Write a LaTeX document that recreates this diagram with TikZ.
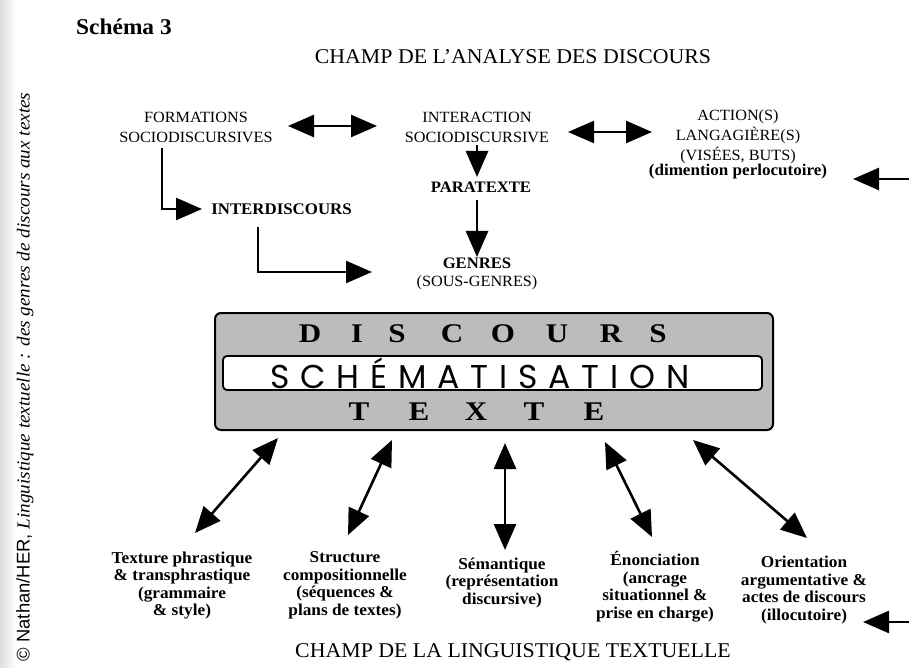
\documentclass[tikz,border=0pt]{standalone}
\usepackage{fontspec}
\setmainfont{Liberation Serif}[FakeStretch=1.04]
\newfontfamily\wideserif{Liberation Serif}[FakeStretch=1.15]
\newfontfamily\schfont{Poppins}[LetterSpace=33]
\newfontfamily\credsans{Liberation Sans}
\usetikzlibrary{arrows.meta}
\definecolor{boxgray}{RGB}{188,188,188}
\definecolor{stripgray}{RGB}{222,222,222}

\begin{document}
\begin{tikzpicture}[x=1pt,y=-1pt,
  lbl/.style={inner sep=0pt, align=center},
  caps/.style={lbl, font=\fontsize{15.6}{20}\selectfont},
  boldlbl/.style={lbl, font=\bfseries\fontsize{16.6}{17.5}\selectfont},
  title/.style={lbl, font=\fontsize{21}{22}\selectfont},
  bigletter/.style={inner sep=0pt, font=\wideserif\bfseries\fontsize{27}{27}\selectfont},
  link/.style={line width=2.6pt, -{Triangle[length=26pt,width=22pt]}},
  dbl/.style={line width=2.6pt, {Triangle[length=26pt,width=22pt]}-{Triangle[length=26pt,width=22pt]}},
]
\useasboundingbox (0,0) rectangle (909,668);
\fill[white] (0,0) rectangle (909,668);
% page gutter
\shade[left color=stripgray, right color=white] (0,0) rectangle (16,668);

% credit line along the gutter
\node[inner sep=0pt, rotate=90] (credit) at (25,377)
  {\fontsize{18.4}{19}\selectfont{\credsans ©~Nathan/HER,} \textit{Linguistique textuelle : des genres de discours aux textes}};

% headings
\node[inner sep=0pt, anchor=base west, font=\bfseries\fontsize{22.5}{24}\selectfont] (schema) at (76,35) {Schéma 3};
\node[title] (champA) at (513,57) {CHAMP DE L’ANALYSE DES DISCOURS};
\node[title] (champL) at (513,652) {CHAMP DE LA LINGUISTIQUE TEXTUELLE};

% upper field
\node[caps] (form) at (196,127) {FORMATIONS\\SOCIODISCURSIVES};
\node[caps] (inter) at (477,127) {INTERACTION\\SOCIODISCURSIVE};
\node[caps] (action) at (738,137) {ACTION(S)\\LANGAGIÈRE(S)\\(VISÉES, BUTS)};
\node[lbl, font=\bfseries\fontsize{16.4}{17}\selectfont] (perlo) at (738,172) {(dimention perlocutoire)};
\node[lbl, font=\bfseries\fontsize{16}{18}\selectfont] (para) at (481,187) {PARATEXTE};
\node[lbl, font=\bfseries\fontsize{16.2}{18}\selectfont] (interd) at (281.5,209) {INTERDISCOURS};
\node[lbl, font=\fontsize{15.6}{18}\selectfont] (genres) at (477,274) {\textbf{\fontsize{16}{18}\selectfont GENRES}\\(SOUS-GENRES)};

% connector end points
\coordinate (d1a) at (288,126);  \coordinate (d1b) at (377,126);
\coordinate (d2a) at (568,132);  \coordinate (d2b) at (652,132);
\coordinate (p1a) at (477,145);  \coordinate (p1b) at (477,177);
\coordinate (p2a) at (477,200);  \coordinate (p2b) at (477,257);
\coordinate (e1a) at (162,148);  \coordinate (e1b) at (202,209);
\coordinate (e2a) at (258,227);  \coordinate (e2b) at (372,272);
\coordinate (r1a) at (912,179);  \coordinate (r1b) at (853,179);
\coordinate (r2a) at (912,622);  \coordinate (r2b) at (863,622);

\draw[dbl] (d1a) -- (d1b);
\draw[dbl] (d2a) -- (d2b);
\draw[link] (p1a) -- (p1b);
\draw[link] (p2a) -- (p2b);
\draw[link] (e1a) |- (e1b);
\draw[link] (e2a) |- (e2b);
\draw[link] (r1a) -- (r1b);
\draw[link] (r2a) -- (r2b);

% central block
\node[draw, line width=2pt, fill=boxgray, rounded corners=6pt, inner sep=0pt,
      minimum width=558pt, minimum height=117pt] (block) at (494,371.5) {};
\node[draw, line width=1.8pt, fill=white, rounded corners=4pt, inner sep=0pt,
      minimum width=539pt, minimum height=34pt] (schbox) at (492.5,373) {};
\node[inner sep=0pt, font=\schfont\fontsize{33}{33}\selectfont] (schem) at (480,373) {SCHÉMATISATION};

\foreach \ch/\px [count=\i] in {D/310, I/357, S/397, C/452, O/503, U/557, R/611, S/658}
  \node[bigletter] (disc\i) at (\px,334) {\ch};
\foreach \ch/\px [count=\i] in {T/359, E/419, X/476, T/534, E/594}
  \node[bigletter] (texte\i) at (\px,412) {\ch};

% lower field
\node[boldlbl] (texture) at (182,585.5) {Texture phrastique\\\& transphrastique\\(grammaire\\\& style)};
\node[boldlbl] (struct) at (345,585.5) {Structure\\compositionnelle\\(séquences \&\\plans de textes)};
\node[boldlbl] (seman) at (502,582.5) {Sémantique\\(représentation\\discursive)};
\node[boldlbl] (enonc) at (655,586.5) {Énonciation\\(ancrage\\situationnel \&\\prise en charge)};
\node[boldlbl] (orient) at (804,590) {Orientation\\argumentative \&\\actes de discours\\(illocutoire)};

\coordinate (b1a) at (278,438);  \coordinate (b1b) at (195,533);
\coordinate (b2a) at (392,440);  \coordinate (b2b) at (348,535);
\coordinate (b3a) at (505,443);  \coordinate (b3b) at (505,550);
\coordinate (b4a) at (605,442);  \coordinate (b4b) at (652,537);
\coordinate (b5a) at (693,440);  \coordinate (b5b) at (807,538);

\draw[dbl] (b1a) -- (b1b);
\draw[dbl] (b2a) -- (b2b);
\draw[dbl] (b3a) -- (b3b);
\draw[dbl] (b4a) -- (b4b);
\draw[dbl] (b5a) -- (b5b);
\end{tikzpicture}
\end{document}
